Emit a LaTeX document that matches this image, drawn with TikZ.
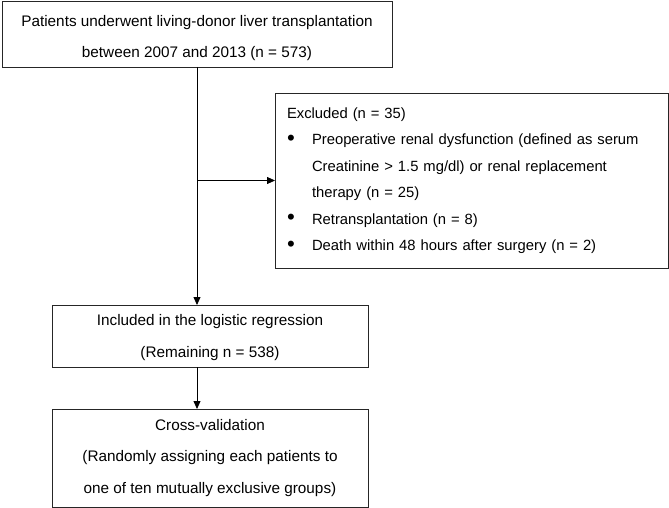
\documentclass[tikz,border=0pt]{standalone}
\usepackage{graphicx}
\usepackage{fontspec}
\setmainfont{Liberation Sans}
\usetikzlibrary{arrows.meta,positioning}
\tikzset{flowbox/.style={draw=black!85, line width=0.8pt, inner sep=0pt, outer sep=0pt, align=center},
arrowline/.style={line width=0.8pt, -{Triangle[length=8pt,width=7pt]}}}
\newcommand{\bulletitem}{\makebox[25pt][l]{\raisebox{-0.6pt}{\scalebox{1.5}{\textbullet}}}}

\begin{document}
\begin{tikzpicture}[x=1pt,y=-1pt]

    \useasboundingbox (0,0) rectangle (669,508);

    \node[flowbox, minimum width=390pt, minimum height=66pt, font=\fontsize{15.3}{31}\selectfont] (patients) at (197,34)
        {\rule{0pt}{19pt}Patients underwent living-donor liver transplantation\\between 2007 and 2013 (n = 573)};

    \node[flowbox, minimum width=393pt, minimum height=175pt, text width=369pt, align=left, font=\fontsize{14.8}{26.5}\selectfont] (excluded) at (471.5,180.5)
        {Excluded (n = 35)\\
         \bulletitem Preoperative renal dysfunction (defined as serum\\
         \hspace*{25pt}Creatinine > 1.5 mg/dl) or renal replacement\\
         \hspace*{25pt}therapy (n = 25)\\
         \bulletitem Retransplantation (n = 8)\\
         \bulletitem Death within 48 hours after surgery (n = 2)};

    \node[flowbox, minimum width=316pt, minimum height=62pt, font=\fontsize{15.3}{32}\selectfont] (included) at (210,336)
        {\rule{0pt}{15pt}Included in the logistic regression\\(Remaining n = 538)};

    \node[flowbox, minimum width=316pt, minimum height=98pt, font=\fontsize{15.3}{31.5}\selectfont] (crossval) at (210,458)
        {Cross-validation\\(Randomly assigning each patients to\\one of ten mutually exclusive groups)};

    \coordinate (split) at (patients.south |- excluded.west);

    \draw[arrowline] (patients.south) -- (patients.south |- included.north);
    \draw[arrowline] (split) -- (excluded.west);
    \draw[arrowline] (patients.south |- included.south) -- (patients.south |- crossval.north);

\end{tikzpicture}
\end{document}
